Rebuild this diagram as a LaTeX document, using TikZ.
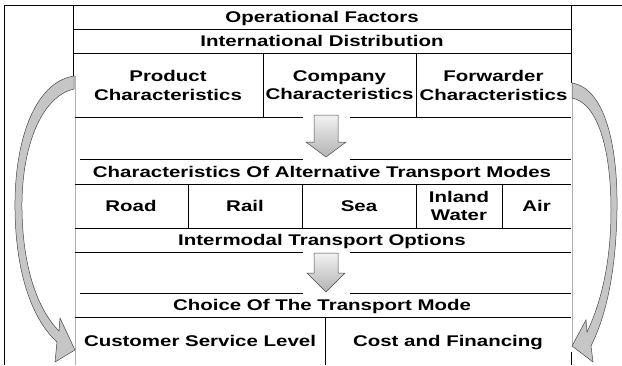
\documentclass[tikz,border=0pt]{standalone}
\usepackage{fontspec}
\setmainfont{Liberation Sans}[FakeStretch=1.32]

\tikzset{
	cell/.style={font=\bfseries\fontsize{15.5}{18.3}\selectfont, align=center, inner sep=0pt},
	cellbase/.style={cell, anchor=base},
	rule/.style={line width=1pt},
	faintrule/.style={line width=1pt, draw=gray!60},
	swoosh/.style={fill=gray!45, draw=gray!55!black, line width=0.5pt},
	downarrow/.style={top color=gray!10, bottom color=gray!60, draw=gray!55!black, line width=0.5pt},
}

\begin{document}
\begin{tikzpicture}[x=1pt,y=1pt,yscale=-1,xscale=1]
	\useasboundingbox (0,0) rectangle (622,365);
	
	%Outer frame
	\draw [rule] (4,5) -- (622,5) ;
	\draw [rule] (4,5) -- (4,365) ;
	
	%Table sides
	\draw [rule] (73,5) -- (73,76) ;
	\draw [faintrule] (75,76) -- (75,365) ;
	\draw [rule] (571,5) -- (571,83) ;
	\draw [faintrule] (572,98) -- (572,346) ;
	\draw [rule] (571,352) -- (571,365) ;
	
	%Straight Lines: rows
	\draw [rule] (73,29) -- (571,29) ;
	\draw [rule] (73,53) -- (571,53) ;
	\draw [rule] (75,117) -- (303,117) ;
	\draw [rule] (350,117) -- (571,117) ;
	\draw [rule] (80,159) -- (303,159) ;
	\draw [rule] (350,159) -- (571,159) ;
	\draw [rule] (75,184) -- (571,184) ;
	\draw [rule] (75,228) -- (571,228) ;
	\draw [rule] (75,252) -- (303,252) ;
	\draw [rule] (350,252) -- (571,252) ;
	\draw [rule] (80,293) -- (303,293) ;
	\draw [rule] (350,293) -- (571,293) ;
	\draw [rule] (75,317) -- (571,317) ;
	
	%Straight Lines: columns
	\draw [rule] (263,53) -- (263,117) ;
	\draw [rule] (416,53) -- (416,117) ;
	\draw [rule] (188,184) -- (188,228) ;
	\draw [rule] (302,184) -- (302,228) ;
	\draw [rule] (416,184) -- (416,228) ;
	\draw [rule] (502,184) -- (502,228) ;
	\draw [rule] (325,317) -- (325,365) ;
	
	%Shape: Down Arrow
	\draw [downarrow] (314,115) -- (338,115) -- (338,142) -- (346,142) -- (326,157) -- (306,142) -- (314,142) -- cycle ;
	%Shape: Down Arrow
	\draw [downarrow] (314,253) -- (338,253) -- (338,273) -- (345,273) -- (326,292) -- (307,273) -- (314,273) -- cycle ;
	
	%Shape: Curved Arrow (left)
	\draw [swoosh] (74,76) .. controls (35,82) and (14,140) .. (15,210) .. controls (16,280) and (35,322) .. (57,342) -- (55,362) -- (75,350) -- (60,318) -- (59,331) .. controls (41,313) and (23,275) .. (22,210) .. controls (21,150) and (40,97) .. (74,89) -- cycle ;
	%Shape: Curved Arrow (right)
	\draw [swoosh] (572,83) .. controls (603,88) and (618,140) .. (617,210) .. controls (616,275) and (605,318) .. (591,346) -- (593,362) -- (572,346) -- (586,320) -- (587,332) .. controls (600,305) and (611,265) .. (611,210) .. controls (611,150) and (598,103) .. (572,98) -- cycle ;
	
	% Text Node
	\node [cellbase] (opfactors) at (322,22.5) {Operational Factors};
	% Text Node
	\node [cellbase] (intdist) at (322,46.5) {International Distribution};
	% Text Node
	\node [cell] (product) at (168,85.5) {Product\\Characteristics};
	% Text Node
	\node [cell] (company) at (339.5,85.5) {Company\\Characteristics};
	% Text Node
	\node [cell] (forwarder) at (493.5,85.5) {Forwarder\\Characteristics};
	% Text Node
	\node [cellbase] (altmodes) at (322,177) {Characteristics Of Alternative Transport Modes};
	% Text Node
	\node [cellbase] (road) at (131,211.5) {Road};
	% Text Node
	\node [cellbase] (rail) at (245,211.5) {Rail};
	% Text Node
	\node [cellbase] (sea) at (359,211.5) {Sea};
	% Text Node
	\node [cell] (inland) at (459,206) {Inland\\Water};
	% Text Node
	\node [cellbase] (air) at (536.5,211.5) {Air};
	% Text Node
	\node [cellbase] (intermodal) at (322,245.5) {Intermodal Transport Options};
	% Text Node
	\node [cellbase] (choice) at (322,310.5) {Choice Of The Transport Mode};
	% Text Node
	\node [cellbase] (service) at (200,346) {Customer Service Level};
	% Text Node
	\node [cellbase] (cost) at (448,346) {Cost and Financing};
	
\end{tikzpicture}
\end{document}
